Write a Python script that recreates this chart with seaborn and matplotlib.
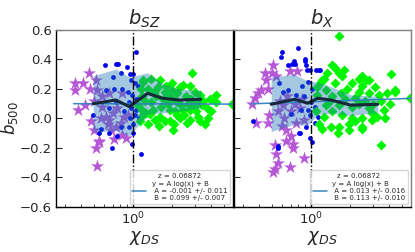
import numpy as np
import pandas as pd
import matplotlib
matplotlib.use("Agg")
import matplotlib.pyplot as plt
import seaborn as sns

# ---------------- data ----------------
z_value = "0.06872"

# left panel (b_SZ)
sz_star_x = [0.46,0.36,0.41,0.36,0.47,0.43,0.38,0.50,0.52,0.53,0.48,0.50,0.55,0.52,0.72,0.68,0.88,0.83,0.53,0.58,0.62,0.65,0.70,0.76,0.83,0.66,0.57,0.74,0.86,0.58,0.64,0.81,0.91,0.55]
sz_star_y = [0.31,0.24,0.24,0.19,0.20,0.09,0.06,0.12,0.26,0.19,-0.02,-0.08,-0.15,-0.20,-0.14,-0.08,-0.13,-0.11,-0.32,0.08,0.01,-0.01,0.04,0.07,0.17,0.17,0.00,-0.06,0.01,0.15,-0.04,-0.03,0.02,-0.16]

sz_dot_x = [1.05,0.61,0.74,0.77,0.90,0.81,0.95,1.00,1.04,0.70,0.62,0.72,0.83,0.91,0.98,1.05,1.12,0.94,0.97,1.05,1.09,0.74,0.66,0.49,0.81,0.94,1.00,0.66,0.55,0.76,0.99,0.69,0.57,0.95,0.86,1.04,1.12,1.01,1.15,0.97,1.10]
sz_dot_y = [0.45,0.36,0.37,0.37,0.35,0.31,0.30,0.30,0.24,0.28,0.19,0.20,0.20,0.18,0.16,0.13,0.14,0.11,0.07,0.06,0.09,0.11,0.07,0.02,-0.06,-0.06,-0.04,-0.10,-0.10,-0.12,-0.17,-0.20,-0.07,0.00,0.05,0.02,0.00,-0.10,-0.24,0.26,0.22]

sz_dia_x = [2.86,1.99,2.44,2.74,1.61,1.39,1.20,4.40,3.91,3.28,3.09,4.40,5.85,3.80,3.18,3.58,2.04,1.48,1.76,2.30,1.27,1.43,1.66,1.93,2.74,2.59,2.17,1.76,1.31,1.52,3.09,2.17,2.44,1.17,1.17,1.13,1.61,1.93,2.74,2.37,3.38,1.39,2.04,2.83,2.08,1.19,1.19,
            1.25,1.35,1.55,1.70,1.85,2.00,2.20,2.50,2.65,2.95,3.00,3.50,3.70,1.45,1.80,2.30,1.60,2.60,1.10,1.15,3.30,2.10,1.95,1.30,4.00]
sz_dia_y = [0.31,0.24,0.23,0.22,0.26,0.27,0.26,0.16,0.13,0.16,0.11,0.11,0.10,0.00,0.01,-0.04,-0.08,-0.01,-0.02,0.00,0.04,0.06,0.08,0.06,0.06,0.15,0.17,0.18,0.20,0.15,0.05,0.02,0.06,0.15,0.06,-0.02,0.01,-0.02,-0.01,0.09,0.09,0.11,0.13,0.13,-0.04,0.25,0.02,
            0.12,0.03,0.21,0.13,0.10,0.19,0.11,0.02,0.10,0.08,0.18,0.12,0.07,0.18,0.22,0.21,-0.05,-0.03,0.09,0.20,-0.02,0.05,0.15,-0.04,0.05]

sz_bin_x = [0.495,0.74,0.94,1.30,1.69,2.27,3.33]
sz_median = [0.10,0.125,0.08,0.17,0.137,0.125,0.13]
sz_std = [0.19,0.21,0.20,0.14,0.10,0.075,0.06]
sz_A, sz_B = -0.001, 0.099
sz_A_err, sz_B_err = 0.011, 0.007

# right panel (b_X)
x_star_x = [0.51,0.44,0.50,0.54,0.45,0.69,0.79,0.41,0.47,0.39,0.37,0.35,0.38,0.47,0.48,0.61,0.56,0.65,0.70,0.65,0.73,0.53,0.73,0.54,0.56,0.53,0.51,0.69,0.88,0.77,0.89,0.70,0.82,
            0.58,0.62,0.66,0.75,0.60,0.85]
x_star_y = [0.36,0.31,0.31,0.29,0.26,0.32,0.32,0.19,0.20,0.17,0.14,0.10,-0.03,-0.03,0.02,0.09,0.05,-0.08,-0.12,-0.15,-0.17,-0.18,-0.20,-0.24,-0.30,-0.34,-0.36,-0.33,-0.27,-0.03,-0.01,0.05,0.07,
            0.12,0.00,0.15,0.10,-0.05,0.13]

x_dot_x = [0.80,0.60,0.59,0.74,0.75,0.91,0.92,0.67,0.98,1.10,1.17,0.57,0.67,0.61,0.77,0.89,1.00,1.07,0.95,0.98,1.13,1.07,0.92,0.82,0.84,0.56,0.36,0.81,1.17,0.56,0.91,1.15,0.94,0.72,
           0.96,1.02,0.86,0.70,0.98,1.03]
x_dot_y = [0.48,0.45,0.42,0.39,0.37,0.39,0.36,0.36,0.33,0.33,0.33,0.24,0.19,0.18,0.16,0.15,0.11,0.08,0.06,0.02,0.01,-0.03,-0.06,-0.10,0.06,-0.19,-0.02,-0.10,-0.06,-0.20,0.40,0.33,0.33,0.37,
           0.25,0.20,0.22,0.03,-0.13,-0.16]

x_dia_x = [1.64,1.46,1.64,1.79,1.33,2.48,2.79,4.18,2.08,2.34,4.43,3.86,3.33,2.79,4.10,5.80,1.30,1.46,1.85,2.34,3.65,2.96,3.24,3.76,2.48,2.08,1.74,1.46,1.26,1.22,1.42,1.64,1.96,2.48,2.96,3.47,2.79,2.08,1.64,1.30,1.22,1.55,1.55,1.74,1.26,1.19,2.34,2.64,2.48,4.49,1.12,1.15,1.61,1.96,2.48,
           1.10,1.12,2.20,2.60,3.00,3.10,1.90,1.40,2.20,3.50,1.70]
x_dia_y = [0.56,0.36,0.31,0.33,0.31,0.29,0.26,0.30,0.24,0.18,0.18,0.17,0.16,0.17,0.10,0.14,0.19,0.15,0.13,0.10,0.06,0.04,0.01,0.00,0.00,0.00,0.02,0.05,0.01,-0.07,-0.06,-0.06,-0.08,-0.07,-0.01,-0.18,0.07,0.08,0.09,0.09,0.26,0.24,0.34,0.29,0.27,0.25,0.27,0.26,0.22,0.19,0.16,-0.04,-0.10,-0.04,-0.06,
           0.05,0.21,0.14,0.12,0.10,0.21,0.20,0.12,-0.02,0.12,0.17]

x_bin_x = [0.495,0.75,0.95,1.13,1.43,2.04,3.28]
x_median = [0.096,0.13,0.103,0.137,0.125,0.09,0.096]
x_std = [0.185,0.17,0.15,0.11,0.09,0.07,0.055]
x_A, x_B = 0.013, 0.113
x_A_err, x_B_err = 0.016, 0.010

fit_x_range = [0.35, 6.5]
titles = [r"$b_{SZ}$", r"$b_{X}$"]
ylabel = r"$b_{500}$"
xlabel = r"$\chi_{DS}$"
yticks = [-0.6, -0.4, -0.2, 0.0, 0.2, 0.4, 0.6]

# ---------------- figure ----------------
sns.set_style("ticks")
plt.rcParams['font.family'] = ['DejaVu Sans']
plt.rcParams['mathtext.fontset'] = 'dejavusans'

fig, axes = plt.subplots(1, 2, figsize=(4.15, 2.52), dpi=100, sharey=True)
fig.subplots_adjust(left=0.135, right=0.99, top=0.881, bottom=0.179, wspace=0.006)

panels = [
    (sz_star_x, sz_star_y, sz_dot_x, sz_dot_y, sz_dia_x, sz_dia_y, sz_bin_x, sz_median, sz_std, sz_A, sz_B, sz_A_err, sz_B_err),
    (x_star_x, x_star_y, x_dot_x, x_dot_y, x_dia_x, x_dia_y, x_bin_x, x_median, x_std, x_A, x_B, x_A_err, x_B_err),
]

star_color = "#b657d6"
dot_color = "#0000ee"
dia_color = "#00f500"
band_color = "#1f77b4"
median_color = "#17283a"

for i, (ax, p) in enumerate(zip(axes, panels)):
    (sx, sy, dx, dy, gx, gy, bx, med, std, A, B, Ae, Be) = p
    sns.scatterplot(x=sx, y=sy, ax=ax, marker="*", s=95, color=star_color, linewidth=0, zorder=2)
    sns.scatterplot(x=dx, y=dy, ax=ax, marker="o", s=12, color=dot_color, linewidth=0, zorder=2)
    sns.scatterplot(x=gx, y=gy, ax=ax, marker="D", s=26, color=dia_color, linewidth=0, zorder=2)

    fx = np.array(fit_x_range)
    fy = A * np.log(fx) + B
    label = f"y = A log(x) + B\n A = {A:.3f} +/- {Ae:.3f}\n B = {B:.3f} +/- {Be:.3f}"
    ax.plot(fx, fy, color="#3a86c0", lw=1.1, zorder=3, label=label)

    bxa = np.array(bx); meda = np.array(med); stda = np.array(std)
    ax.fill_between(bxa, meda - stda, meda + stda, color=band_color, alpha=0.4, lw=0, zorder=4)
    sns.lineplot(x=bx, y=med, ax=ax, color=median_color, lw=2.2, zorder=5)

    ax.axvline(1.0, color="black", ls="-.", lw=1.0, zorder=6)

    ax.set_xscale("log")
    ax.set_xlim(0.256, 5.9)
    ax.set_ylim(-0.6, 0.6)
    ax.set_yticks(yticks)
    ax.set_title(titles[i], fontsize=14, pad=2)
    ax.set_xlabel(xlabel, fontsize=13, labelpad=1)
    ax.tick_params(axis="both", which="both", direction="in", labelsize=9.5, pad=3)
    ax.tick_params(axis="both", which="major", length=4)
    ax.tick_params(axis="both", which="minor", length=2)
    ax.xaxis.set_minor_formatter(matplotlib.ticker.NullFormatter())
    for s in ["left", "bottom", "right"]:
        ax.spines[s].set_color("black")
    ax.spines["top"].set_color("#7f7f7f")
    if i == 1:
        ax.spines["right"].set_color("#7f7f7f")
    for s in ax.spines.values():
        s.set_linewidth(1.0)

    leg = ax.legend(loc="lower right", title=f"z = {z_value}", fontsize=5, title_fontsize=5,
                    frameon=True, borderaxespad=0.4, handlelength=2.0, labelspacing=0.3)
    leg.set_zorder(10)

axes[0].set_ylabel(ylabel, fontsize=12, labelpad=0)
axes[1].tick_params(axis="y", labelleft=False)

fig.savefig("out.png", dpi=100)
